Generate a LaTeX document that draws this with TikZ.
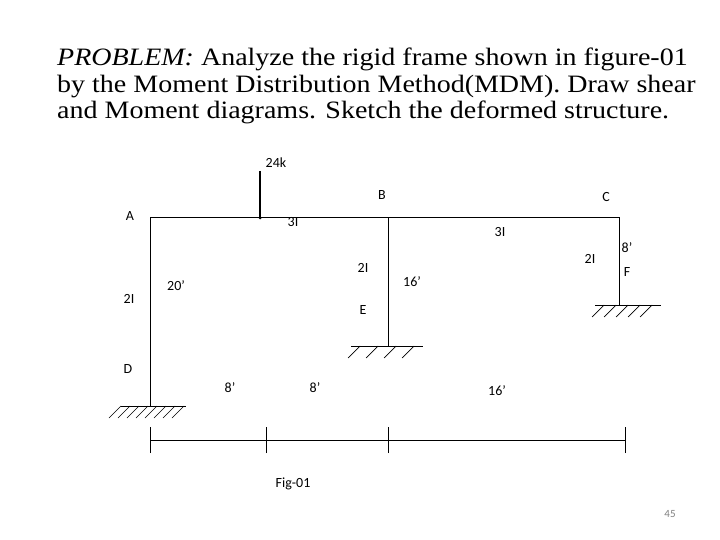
\documentclass[tikz,border=0pt]{standalone}
\usepackage{fontspec}
\setmainfont{Liberation Serif}
\newfontfamily\lab{Carlito}
\begin{document}
\begin{tikzpicture}[x=1pt,y=-1pt,
  lbl/.style={font=\lab\fontsize{14}{16}\selectfont,inner sep=0pt},
  mem/.style={line width=1pt},
  hatch/.style={line width=0.7pt}]
\useasboundingbox (0,0) rectangle (720,540);
\node[anchor=north west,inner sep=0pt] (title) at (57,47)
 {\scalebox{1.12}[1]{\fontsize{25}{26.5}\selectfont\begin{tabular}{@{}l@{}}\textit{PROBLEM:} Analyze the rigid frame shown in figure-01\\by the Moment Distribution Method(MDM). Draw shear\\and Moment diagrams. Sketch the deformed structure.\end{tabular}}};
\coordinate (A) at (150,218); \coordinate (B) at (388,218); \coordinate (C) at (619,218);
\coordinate (D) at (150,406); \coordinate (E) at (388,346); \coordinate (F) at (619,305);
\coordinate (P) at (260,218); \coordinate (P0) at (260,171);
\draw[mem] (D)--(A)--(C)--(F); \draw[mem] (B)--(E);
\draw[line width=1.5pt] (P0)--(P); \fill (P) circle (1.5pt);
% supports
\draw[mem] (121,406)--(186,406);
\foreach \x in {121,130,...,185} \draw[hatch] (\x,406)--(\x-12,418);
\draw[mem] (351,346)--(423,346);
\foreach \x in {360,378,396,414} \draw[hatch] (\x,346)--(\x-12,358);
\draw[mem] (595,305)--(661,305);
\foreach \x in {604,616,628,640,652} \draw[hatch] (\x,305)--(\x-12,317);
% dimension line
\coordinate (d1) at (150,440); \coordinate (d2) at (266,440); \coordinate (d3) at (388,440); \coordinate (d4) at (625,440);
\draw[line width=0.8pt] (d1)--(d4);
\foreach \p in {d1,d2,d3,d4} \draw[line width=0.8pt] ([yshift=-13pt]\p)--([yshift=13pt]\p);
% labels
\node[lbl] at (276,163) {24k};
\node[lbl] at (130,216) {A};
\node[lbl] at (382,195) {B};
\node[lbl] at (606,197) {C};
\node[lbl] at (293,222) {3I};
\node[lbl] at (500,232) {3I};
\node[lbl] at (363,268) {2I};
\node[lbl] at (412,282) {16’};
\node[lbl] at (590,259) {2I};
\node[lbl] at (627,248) {8’};
\node[lbl] at (627,272) {F};
\node[lbl] at (176,286) {20’};
\node[lbl] at (129,299) {2I};
\node[lbl] at (363,310) {E};
\node[lbl] at (128,369) {D};
\node[lbl] at (230,388) {8’};
\node[lbl] at (315,388) {8’};
\node[lbl] at (497,391) {16’};
\node[lbl] at (293,484) {Fig-01};
\node[lbl,font=\lab\fontsize{11}{13}\selectfont,text=gray] at (670,514) {45};
\end{tikzpicture}
\end{document}
